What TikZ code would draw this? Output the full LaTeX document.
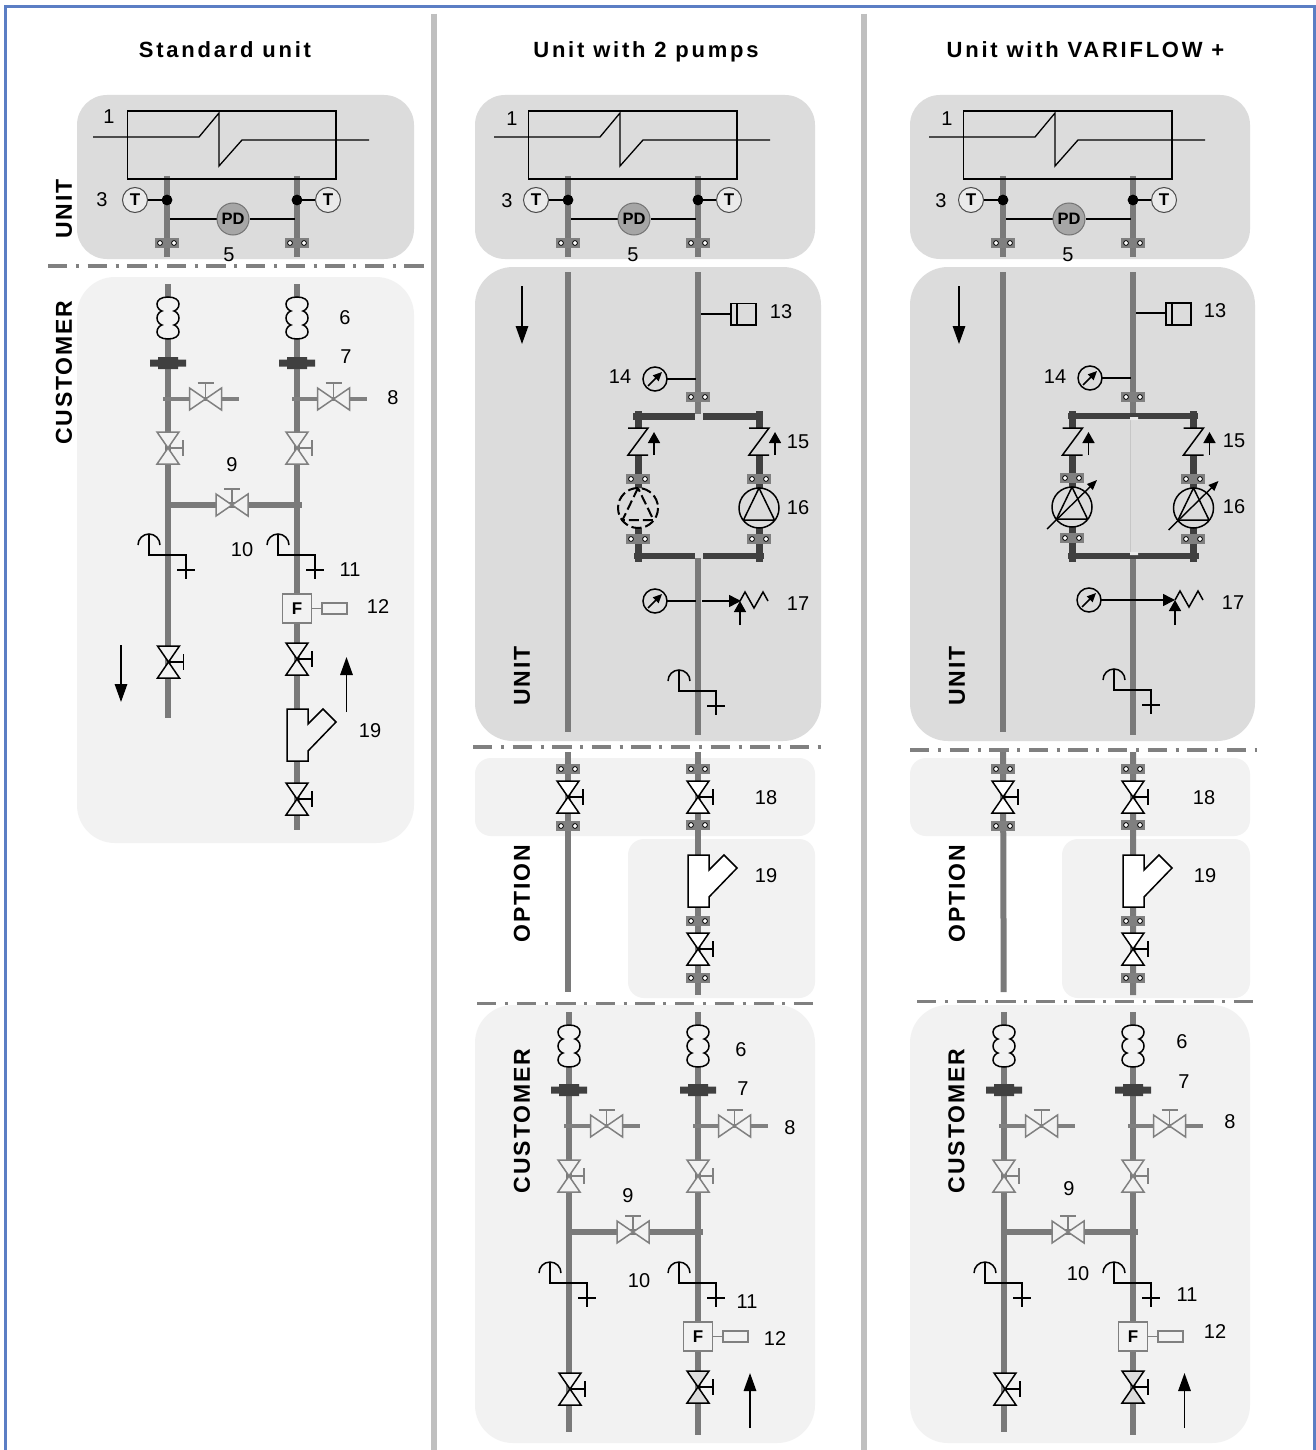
\documentclass[tikz,border=0pt]{standalone}
\usepackage{fontspec}
\setmainfont{Liberation Sans}
\newfontfamily\titlef[LetterSpace=12.5]{Liberation Sans}
\newfontfamily\sidef[LetterSpace=8]{Liberation Sans}
\usetikzlibrary{arrows.meta,shapes.geometric}
\definecolor{frameblue}{HTML}{5B7EC4}
\definecolor{sepgrey}{HTML}{BFBFBF}
\definecolor{pipegrey}{HTML}{7A7A7A}
\definecolor{darkpipe}{HTML}{404040}
\definecolor{paneldark}{HTML}{DCDCDC}
\definecolor{panellight}{HTML}{F2F2F2}
\definecolor{pdgrey}{HTML}{A6A6A6}
\definecolor{symgrey}{HTML}{808080}
\tikzset{
  panelbox/.style={fill=#1,draw=none,rounded corners=30pt},
  pipeline/.style={draw=pipegrey,line width=6pt},
  branchline/.style={draw=symgrey,line width=4.5pt},
  darkline/.style={draw=darkpipe,line width=6.5pt},
  sym/.style={draw=black,line width=1.5pt},
  dashdot/.style={draw=symgrey,line width=3.2pt,dash pattern=on 19.3pt off 8.6pt on 3pt off 8.7pt},
  numlab/.style={font=\fontsize{20}{22}\selectfont,text=black,inner sep=0pt},
  headlab/.style={font=\titlef\bfseries\fontsize{22}{24}\selectfont,text=black,inner sep=0pt,anchor=base},
  sidelab/.style={font=\sidef\bfseries\fontsize{23}{24}\selectfont,text=black,inner sep=0pt,rotate=90},
  bigarrow/.style={draw=black,line width=1.5pt,-{Triangle[length=18pt,width=12.5pt]}},
  smallarrow/.style={draw=black,line width=1.5pt,-{Triangle[length=11pt,width=12pt]}},
}
\newcommand{\clampat}[2]{\begin{scope}[shift={(#1,#2)}]
 \fill[symgrey] (-12,-5) rectangle (12,5);
 \filldraw[fill=white,draw=black,line width=.8pt] (-7,0) circle (2.4) (7,0) circle (2.4);
\end{scope}}
\newcommand{\vvalve}[4]{\begin{scope}[shift={(#1,#2)}]
 \filldraw[fill=#4,draw=#3,line width=1.5pt,line join=miter] (0,0)--(-11,-16)--(11,-16)--cycle (0,0)--(-11,16)--(11,16)--cycle;
 \draw[#3,line width=1.5pt] (0,0)--(15,0) (15,-8)--(15,8);
\end{scope}}
\newcommand{\hvalve}[4]{\begin{scope}[shift={(#1,#2)}]
 \filldraw[fill=#4,draw=#3,line width=1.5pt] (0,0)--(-16,-11)--(-16,11)--cycle (0,0)--(16,-11)--(16,11)--cycle;
 \draw[#3,line width=1.5pt] (0,0)--(0,-16) (-8,-16)--(8,-16);
\end{scope}}
\newcommand{\flexat}[3]{\begin{scope}[shift={(#1,#2)}]
 \filldraw[fill=#3,draw=black,line width=1.5pt]
 (0,-21) .. controls (7,-21) and (11,-18) .. (11,-14) .. controls (11,-10) and (8,-7.5) .. (6,-7)
 .. controls (8,-6.5) and (11,-4) .. (11,0) .. controls (11,4) and (8,6.5) .. (6,7)
 .. controls (8,7.5) and (11,10) .. (11,14) .. controls (11,18) and (7,21) .. (0,21)
 .. controls (-7,21) and (-11,18) .. (-11,14) .. controls (-11,10) and (-8,7.5) .. (-6,7)
 .. controls (-8,6.5) and (-11,4) .. (-11,0) .. controls (-11,-4) and (-8,-6.5) .. (-6,-7)
 .. controls (-8,-7.5) and (-11,-10) .. (-11,-14) .. controls (-11,-18) and (-7,-21) .. (0,-21) -- cycle;
\end{scope}}
\newcommand{\flangeat}[2]{\begin{scope}[shift={(#1,#2)}]
 \fill[darkpipe] (-18,-3.5) rectangle (18,3.5) (-10,-6) rectangle (10,6);
\end{scope}}
\newcommand{\sensorat}[2]{\begin{scope}[shift={(#1,#2)}]
 \draw[sym] (-30,-10) arc (180:360:11);
 \draw[sym,line join=miter] (-19,-21)--(-19,0)--(18,0)--(18,24) (9,15)--(27,15);
\end{scope}}
\newcommand{\fmeter}[2]{\begin{scope}[shift={(#1,#2)}]
 \filldraw[fill=panellight,draw=symgrey,line width=1.5pt] (-14.5,-14.5) rectangle (14.5,14.5);
 \draw[symgrey,line width=1.5pt] (14.5,0)--(25,0);
 \filldraw[fill=panellight,draw=symgrey,line width=1.5pt] (25,-5.5) rectangle (50,5.5);
 \node (fm#1#2) at (0,0) {\bfseries\fontsize{17}{18}\selectfont F};
\end{scope}}
\newcommand{\strainer}[3]{\begin{scope}[shift={(#1,#2)}]
 \filldraw[fill=#3,draw=black,line width=1.5pt,line join=miter] (-10,0)--(11,0)--(11,15)--(26,0)--(39,13)--(11,42)--(11,52)--(-10,52)--cycle;
\end{scope}}
\newcommand{\gaugeat}[2]{\begin{scope}[shift={(#1,#2)}]
 \draw[sym] (0,0) circle (12);
 \draw[draw=black,line width=1.5pt,-{Triangle[length=9pt,width=8pt]}] (-7,7)--(7,-7);
\end{scope}}
\newcommand{\checkat}[2]{\begin{scope}[shift={(#1,#2)}]
 \fill[paneldark] (-10,0) rectangle (10,27);
 \draw[sym,line join=miter] (-10,0)--(10,0)--(-10,27)--(10,27);
 \draw[smallarrow] (16,27)--(16,4);
\end{scope}}
\newcommand{\pumpbase}[2]{\begin{scope}[shift={(#1,#2)}]
 \filldraw[fill=paneldark,draw=black,line width=1.5pt] (0,0) circle (20);
 \draw[sym,line join=round] (0,-20)--(-15.5,12)--(15.5,12)--cycle;
\end{scope}}
\newcommand{\pumpdash}[2]{\begin{scope}[shift={(#1,#2)}]
 \filldraw[fill=paneldark,draw=black,line width=2pt,dash pattern=on 10pt off 4pt] (0,0) circle (20);
 \draw[draw=black,line width=2pt,dash pattern=on 10pt off 4pt] (0,-20)--(-15.5,12)--(15.5,12)--cycle;
\end{scope}}
\newcommand{\pumpvar}[2]{\begin{scope}[shift={(#1,#2)}]
 \pumpbase{0}{0}
 \draw[draw=black,line width=1.4pt,-{Triangle[length=10pt,width=8pt]}] (-25,22)--(25,-27);
\end{scope}}
\newcommand{\topunit}[2]{\begin{scope}[shift={(#1,0)}]
 \draw[pipeline] (167,176)--(167,257) (297,176)--(297,257);
 \draw[draw=black,line width=1.3pt,line join=miter] (127.5,111) rectangle (336,179);
 \draw[draw=black,line width=1.3pt,line join=miter] (93,137)--(199,137)--(219,113)--(219,166)--(242,140)--(369,140);
 \draw[sym] (148,200)--(167,200) (297,200)--(315,200);
 \draw[sym] (170,219)--(217,219) (250,219)--(295,219);
 \filldraw[fill=black,draw=none] (167,200) circle (5.4) (297,200) circle (5.4);
 \node[circle,draw=black!70,line width=1pt,fill=#2,minimum size=25pt,inner sep=0pt,font=\bfseries\fontsize{17}{18}\selectfont] (tl#1) at (135,200) {T};
 \node[circle,draw=black!70,line width=1pt,fill=#2,minimum size=25pt,inner sep=0pt,font=\bfseries\fontsize{17}{18}\selectfont] (tr#1) at (328,200) {T};
 \node[circle,draw=black!55,line width=1pt,fill=pdgrey,minimum size=32pt,inner sep=0pt,font=\bfseries\fontsize{16.5}{18}\selectfont] (pd#1) at (233,219) {PD};
 \clampat{167}{243}
 \clampat{297}{243}
\end{scope}}
\newcommand{\custblock}[7]{\begin{scope}[shift={(#1,0)}]
 \draw[branchline] (163,#4)--(239,#4) (292,#4)--(367,#4);
 \draw[pipeline] (168,#5)--(302,#5);
 \flexat{168}{#2}{panellight}
 \flexat{297}{#2}{panellight}
 \flangeat{168}{#3}
 \flangeat{297}{#3}
 \hvalve{205.5}{#4}{symgrey}{panellight}
 \hvalve{333.5}{#4}{symgrey}{panellight}
 \hvalve{232}{#5}{symgrey}{panellight}
 \sensorat{168}{#6}
 \sensorat{297}{#6}
 \fmeter{297}{#7}
\end{scope}}
\begin{document}
\begin{tikzpicture}[x=1pt,y=-1pt]
\useasboundingbox (0,0) rectangle (1316,1450);
\fill[white] (0,0) rectangle (1316,1450);
% panels
\fill[panelbox=paneldark] (77,95) rectangle (414,259);
\fill[panelbox=panellight,rounded corners=38pt] (77,277) rectangle (414,843);
\fill[panelbox=paneldark] (475,95) rectangle (815,259);
\fill[panelbox=paneldark,rounded corners=38pt] (475,267) rectangle (821,741);
\fill[panelbox=panellight,rounded corners=16pt] (475,758) rectangle (815,836);
\fill[panelbox=panellight,rounded corners=16pt] (628,839) rectangle (815,998);
\fill[panelbox=panellight,rounded corners=38pt] (475,1005) rectangle (815,1443);
\fill[panelbox=paneldark] (910,95) rectangle (1250,259);
\fill[panelbox=paneldark,rounded corners=38pt] (910,267) rectangle (1255,741);
\fill[panelbox=panellight,rounded corners=16pt] (910,758) rectangle (1250,836);
\fill[panelbox=panellight,rounded corners=16pt] (1062,839) rectangle (1250,998);
\fill[panelbox=panellight,rounded corners=38pt] (910,1005) rectangle (1250,1443);
% frame and separators
\draw[frameblue,line width=3pt] (5.5,1450)--(5.5,6.5)--(1314,6.5)--(1314,1450);
\draw[sepgrey,line width=6pt] (433.5,14)--(433.5,1450) (863.5,14)--(863.5,1450);
% dash-dot
\draw[dashdot] (48,266)--(425,266);
\draw[dashdot] (473,747)--(823,747);
\draw[dashdot] (477,1003.5)--(814,1003.5);
\draw[dashdot] (910,750)--(1257,750);
\draw[dashdot] (917,1001.5)--(1254,1001.5);
% headings
\node[headlab] (h1) at (225,57.5) {Standard unit};
\node[headlab] (h2) at (646,57.5) {Unit with 2 pumps};
\node[headlab] (h3) at (1085.5,57.5) {Unit with VARIFLOW +};
\node[sidelab] (s1) at (64,209) {UNIT};
\node[sidelab] (s2) at (64,372.5) {CUSTOMER};
\node[sidelab] (s3) at (522,676) {UNIT};
\node[sidelab] (s4) at (522,894) {OPTION};
\node[sidelab] (s5) at (522,1121) {CUSTOMER};
\node[sidelab] (s6) at (957,676) {UNIT};
\node[sidelab] (s7) at (957,894) {OPTION};
\node[sidelab] (s8) at (956.5,1121) {CUSTOMER};
% top units
\topunit{0}{paneldark!60}
\topunit{401}{paneldark!60}
\topunit{836}{paneldark!60}
% column 1 pipes and customer
\draw[pipeline] (168,284)--(168,718) (297,284)--(297,830);
\custblock{0}{318}{363}{399}{505}{555}{608.5}
\vvalve{168}{448}{symgrey}{panellight}
\vvalve{297}{448}{symgrey}{panellight}
\vvalve{168.5}{662}{black}{panellight}
\vvalve{297}{659}{black}{panellight}
\strainer{297}{709}{panellight}
\vvalve{297}{799}{black}{panellight}
\draw[bigarrow] (121,645)--(121,702);
\draw[bigarrow] (346.5,712)--(346.5,657);
% column 2 upper
\draw[pipeline] (568,272)--(568,732) (698,272)--(698,414) (698,558)--(698,735);
\draw[sym] (701,314)--(731,314);
\draw[sym] (731,303.5) rectangle (756,325) (737,303.5)--(737,325);
\gaugeat{655}{379}
\draw[sym] (667,379)--(696,379);
\clampat{698}{397}
\draw[darkline] (633,416.5)--(695,416.5) (703,416.5)--(763,416.5) (634,556)--(695,556) (703,556)--(764,556);
\draw[darkline,line width=7pt] (638,411)--(638,562) (759,411)--(759,562);
\checkat{638}{428}
\checkat{759}{428}
\clampat{638}{479}
\clampat{638}{539}
\clampat{759}{479}
\clampat{759}{539}
\pumpdash{638}{508}
\pumpbase{759}{508}
\gaugeat{655}{601}
\draw[sym] (667,601)--(696,601);
\draw[draw=black,line width=1.5pt,-{Triangle[length=12pt,width=12pt]}] (702,601)--(741,601);
\draw[smallarrow] (740,625)--(740,601);
\draw[sym,line join=miter] (740,601)--(745,592)--(754,608)--(763,592)--(768,601);
\sensorat{698}{691}
\draw[bigarrow] (522,286)--(522,344);
% column 3 upper
\draw[pipeline] (1003,272)--(1003,732) (1133,272)--(1133,414) (1133,558)--(1133,735);
\draw[paneldark!90!black,line width=.6pt] (1130,420)--(1130,552);
\draw[sym] (1136,313)--(1166,313);
\draw[sym] (1166,303) rectangle (1191,325) (1172,303)--(1172,325);
\gaugeat{1090}{378}
\draw[sym] (1102,378)--(1131,378);
\clampat{1133}{397}
\draw[darkline] (1068,416)--(1198,416) (1068,556)--(1199,556);
\draw[darkline,line width=7pt] (1072,411)--(1072,562) (1193,411)--(1193,562);
\fill[paneldark!60!white] (1130,417) rectangle (1138,420) (1130,552) rectangle (1138,555);
\checkat{1072.5}{428}
\checkat{1193.5}{428}
\clampat{1072}{478}
\clampat{1072}{538}
\clampat{1193}{479}
\clampat{1193}{539}
\pumpvar{1072}{507}
\pumpvar{1193.5}{508}
\gaugeat{1089}{600}
\draw[sym] (1101,600)--(1165,600);
\draw[draw=black,line width=1.5pt,-{Triangle[length=12pt,width=12pt]}] (1160,600)--(1175,600);
\draw[smallarrow] (1175,625)--(1175,600);
\draw[sym,line join=miter] (1175,600)--(1180,591)--(1189,607)--(1198,591)--(1203,600);
\sensorat{1133}{690}
\draw[bigarrow] (959,286)--(959,344);
% options columns 2,3
\draw[pipeline] (568,752)--(568,992) (698,752)--(698,995);
\draw[pipeline] (1003,752)--(1003.7,992) (1133,752)--(1133,995);
\clampat{568}{769}\clampat{698}{769}\clampat{568}{826}\clampat{698}{825}
\vvalve{568}{797}{black}{white}\vvalve{698}{797}{black}{white}
\strainer{698}{855}{white}
\clampat{698}{921}\vvalve{698}{949}{black}{white}\clampat{698}{978}
\clampat{1003}{769}\clampat{1133}{769}\clampat{1003}{826}\clampat{1133}{825}
\vvalve{1003}{797}{black}{white}\vvalve{1133}{797}{black}{white}
\strainer{1133}{855}{white}
\clampat{1133}{921}\vvalve{1133}{949}{black}{white}\clampat{1133}{978}
% customers columns 2,3
\draw[pipeline] (569,1012)--(569,1432) (698,1012)--(698,1435);
\draw[pipeline] (1004,1012)--(1004,1432) (1133,1012)--(1133,1435);
\custblock{401}{1046}{1090}{1126}{1232}{1283}{1336.5}
\custblock{836}{1046}{1090}{1126}{1232}{1283}{1336.5}
\vvalve{569}{1176}{symgrey}{panellight}\vvalve{698}{1176}{symgrey}{panellight}
\vvalve{570}{1389}{black}{panellight}\vvalve{698}{1387}{black}{paneldark}
\vvalve{1004}{1176}{symgrey}{panellight}\vvalve{1133}{1176}{symgrey}{panellight}
\vvalve{1005}{1389}{black}{panellight}\vvalve{1133}{1387}{black}{paneldark}
\draw[bigarrow] (750,1428)--(750,1373);
\draw[bigarrow] (1184.5,1428)--(1184.5,1373);
% labels col 1
\node[numlab] (a1) at (109,117) {1};
\node[numlab] (a3) at (102,200) {3};
\node[numlab] (a5) at (229,255) {5};
\node[numlab] (a6) at (345,318) {6};
\node[numlab] (a7) at (346,357) {7};
\node[numlab] (a8) at (393,398) {8};
\node[numlab] (a9) at (232,465) {9};
\node[numlab] (a10) at (242,550) {10};
\node[numlab] (a11) at (350,570) {11};
\node[numlab] (a12) at (378,607) {12};
\node[numlab] (a19) at (370,731) {19};
% labels col 2
\node[numlab] (b1) at (512,119) {1};
\node[numlab] (b3) at (507,201) {3};
\node[numlab] (b5) at (633,255) {5};
\node[numlab] (b13) at (781,312) {13};
\node[numlab] (b14) at (620,377) {14};
\node[numlab] (b15) at (798,442) {15};
\node[numlab] (b16) at (798,508) {16};
\node[numlab] (b17) at (798,604) {17};
\node[numlab] (b18) at (766,798) {18};
\node[numlab] (b19) at (766,876) {19};
\node[numlab] (b6) at (741,1050) {6};
\node[numlab] (b7) at (743,1089) {7};
\node[numlab] (b8) at (790,1128) {8};
\node[numlab] (b9) at (628,1196) {9};
\node[numlab] (b10) at (639,1281) {10};
\node[numlab] (b11) at (747,1302) {11};
\node[numlab] (b12) at (775,1339) {12};
% labels col 3
\node[numlab] (c1) at (947,119) {1};
\node[numlab] (c3) at (941,201) {3};
\node[numlab] (c5) at (1068,255) {5};
\node[numlab] (c13) at (1215,311) {13};
\node[numlab] (c14) at (1055,377) {14};
\node[numlab] (c15) at (1234,441) {15};
\node[numlab] (c16) at (1234,507) {16};
\node[numlab] (c17) at (1233,603) {17};
\node[numlab] (c18) at (1204,798) {18};
\node[numlab] (c19) at (1205,876) {19};
\node[numlab] (c6) at (1182,1042) {6};
\node[numlab] (c7) at (1184,1082) {7};
\node[numlab] (c8) at (1230,1122) {8};
\node[numlab] (c9) at (1069,1189) {9};
\node[numlab] (c10) at (1078,1274) {10};
\node[numlab] (c11) at (1187,1295) {11};
\node[numlab] (c12) at (1215,1332) {12};
\end{tikzpicture}
\end{document}
